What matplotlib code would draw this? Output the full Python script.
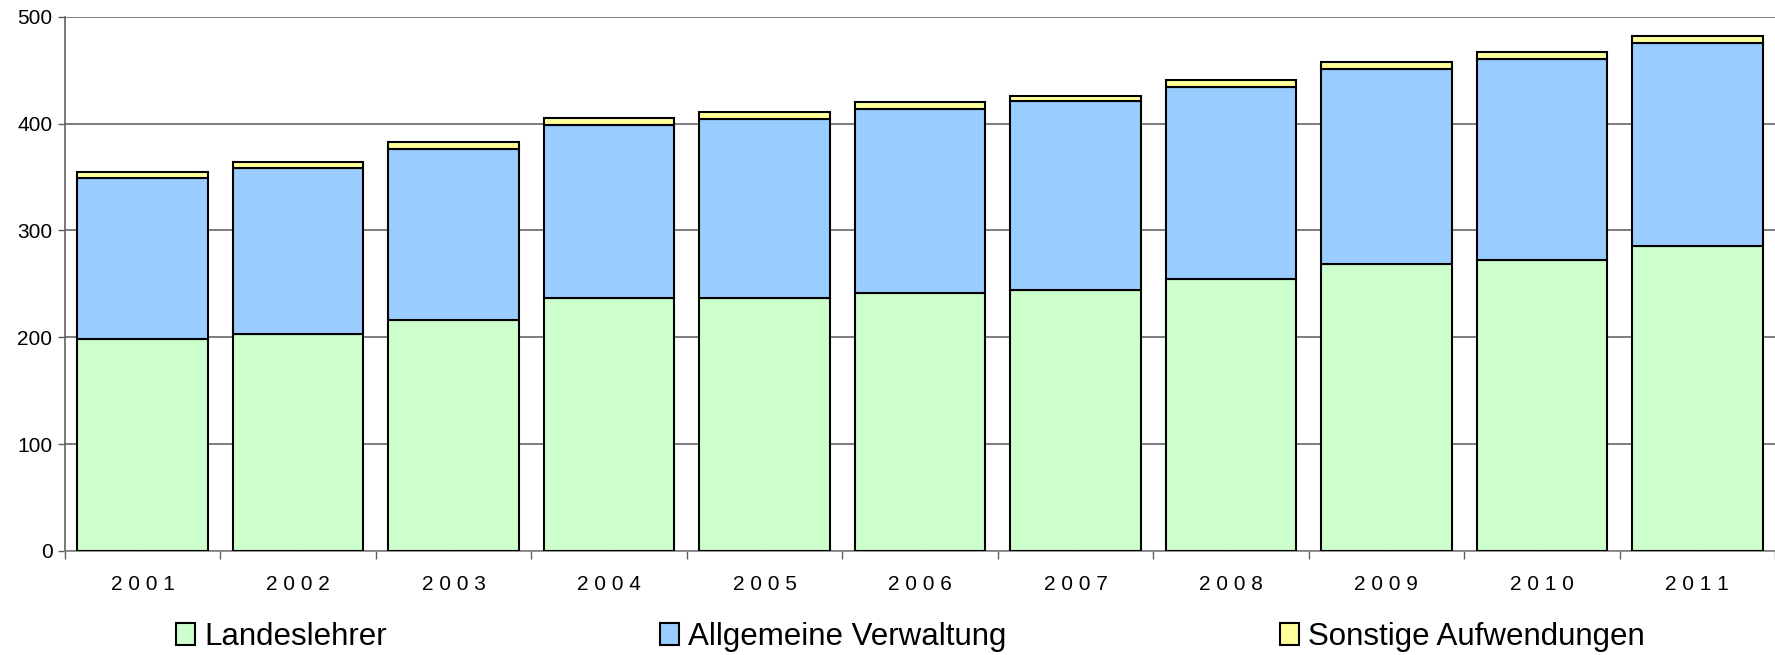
import matplotlib.pyplot as plt
import numpy as np

plt.rcParams['font.family'] = ['Liberation Sans', 'DejaVu Sans']

years = ['2001', '2002', '2003', '2004', '2005', '2006', '2007', '2008', '2009', '2010', '2011']
landeslehrer = [198, 203, 216, 237, 237, 241, 244, 255, 269, 272, 285]
verwaltung = [151, 155, 160.5, 162, 167.5, 173, 177, 179, 182, 188.5, 190.5]
sonstige = [5.5, 6, 6, 6, 6.5, 6.5, 5, 6.5, 6.5, 6.5, 6.5]
series_names = ['Landeslehrer', 'Allgemeine Verwaltung', 'Sonstige Aufwendungen']
colors = ['#CCFFCC', '#99CCFF', '#FFFF99']

fig = plt.figure(figsize=(17.75, 6.55), dpi=100)
ax = fig.add_axes([0.0366, 0.1588, 0.9634, 0.8157])

x = np.arange(len(years))
w = 0.84
bottom = np.zeros(len(years))
handles = []
for vals, c, name in zip([landeslehrer, verwaltung, sonstige], colors, series_names):
    b = ax.bar(x, vals, w, bottom=bottom, color=c, edgecolor='black', linewidth=1.5,
               label=name, zorder=3)
    handles.append(b)
    bottom += np.array(vals)

ax.set_xlim(-0.5, len(years) - 0.5)
ax.set_ylim(0, 500)
ax.set_yticks([0, 100, 200, 300, 400, 500])
ax.yaxis.grid(True, color='#666666', linewidth=1.2, zorder=0)
ax.set_axisbelow(True)

ax.spines['top'].set_visible(False)
ax.spines['right'].set_visible(False)
ax.spines['left'].set_color('#606060')
ax.spines['bottom'].set_color('#808080')
ax.spines['left'].set_linewidth(1.2)
ax.spines['bottom'].set_linewidth(1.2)

# year labels at bar centers, ticks at category boundaries
ax.set_xticks(np.arange(len(years) + 1) - 0.5)
ax.set_xticklabels([])
ax.tick_params(axis='x', which='major', length=6, width=1, color='#606060', direction='out')
ax.set_xticks(x, minor=True)
ax.set_xticklabels([' '.join(y) for y in years], minor=True, fontsize=15)
ax.tick_params(axis='x', which='minor', length=3, width=1, color='#808080',
               direction='in', pad=17)
ax.tick_params(axis='y', length=5, width=1, color='#606060', labelsize=15, pad=4)

fig.legend(handles=handles, labels=series_names, loc='center', bbox_to_anchor=(0.513, 0.027),
           ncol=3, frameon=False, fontsize=22.5, handlelength=0.6, handleheight=0.7,
           handletextpad=0.3, columnspacing=8.75, borderaxespad=0)

fig.savefig('out.png', dpi=100)
